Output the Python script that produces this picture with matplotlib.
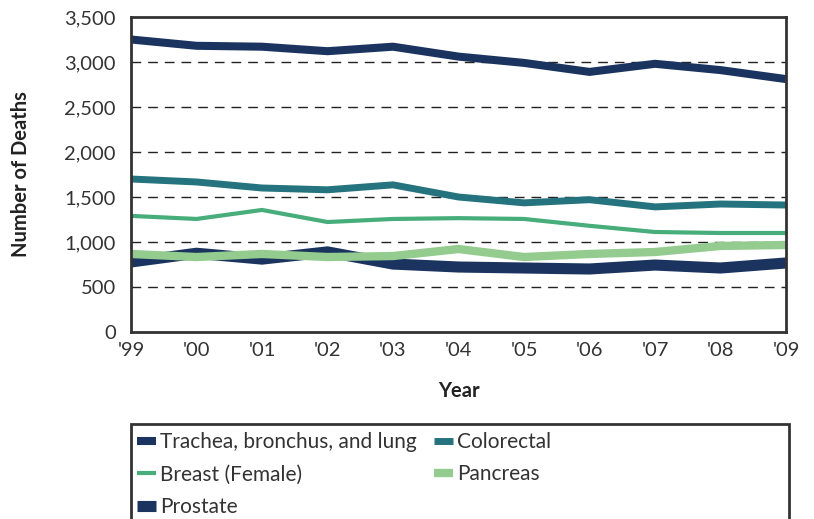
import matplotlib.pyplot as plt
from matplotlib.patches import Rectangle
from matplotlib.lines import Line2D

plt.rcParams['font.family'] = ['Lato', 'DejaVu Sans']

years = ["'99", "'00", "'01", "'02", "'03", "'04", "'05", "'06", "'07", "'08", "'09"]

lung = [3250, 3180, 3170, 3120, 3170, 3060, 2990, 2890, 2980, 2910, 2810]
colorectal = [1700, 1667, 1600, 1580, 1635, 1500, 1435, 1470, 1390, 1422, 1411]
breast = [1290, 1256, 1356, 1222, 1256, 1265, 1256, 1180, 1111, 1100, 1100]
pancreas = [867, 833, 867, 833, 844, 922, 833, 867, 889, 956, 967]
prostate = [778, 875, 810, 890, 755, 722, 711, 700, 744, 711, 767]

navy = '#1b345f'
# name, values, colour, line width, z-order
series = {
    "Trachea, bronchus, and lung": (lung, navy, 5.8, 5),
    "Colorectal": (colorectal, '#24737f', 5.0, 5),
    "Breast (Female)": (breast, '#47ad7b', 3.0, 5),
    "Pancreas": (pancreas, '#93cc8e', 6.0, 4),
    "Prostate": (prostate, navy, 8.0, 3),
}

fig = plt.figure(figsize=(8.14, 5.19), dpi=100)
ax = fig.add_axes([131/814, 1-332/519, (786-131)/814, (332-17)/519])

x = range(len(years))
for name, (vals, col, lw, z) in series.items():
    ax.plot(x, vals, color=col, lw=lw, solid_capstyle='butt', solid_joinstyle='miter', zorder=z)

ax.set_xlim(0, 10)
ax.set_ylim(0, 3500)
ax.set_yticks(range(0, 3501, 500))
ax.set_yticklabels([f"{v:,}" for v in range(0, 3501, 500)])
ax.set_xticks(list(x))
ax.set_xticklabels(years)
ax.tick_params(length=0, labelsize=14.5, colors='#333333')
ax.tick_params(axis='y', pad=11)
ax.tick_params(axis='x', pad=7)
for v in range(500, 3500, 500):
    ax.axhline(v, color='#222222', lw=1, ls=(0, (7, 5)), zorder=1)
for s in ax.spines.values():
    s.set_color('#333333')
    s.set_linewidth(2)
    s.set_zorder(6)

ax.set_ylabel("Number of Deaths", fontsize=14.5, fontweight='bold', color='#222222')
ax.yaxis.set_label_coords(-0.153, 0.5)
ax.set_xlabel("Year", fontsize=14.5, fontweight='bold', color='#222222')
ax.xaxis.set_label_coords(0.5, -0.155)

# legend box (runs off the bottom of the figure)
fig.patches.append(Rectangle((131/814, -0.05), (789-131)/814, (519-424)/519 + 0.05,
                             transform=fig.transFigure, fill=False, ec='#333333', lw=2))

def add_legend(names, xpix):
    handles = [Line2D([], [], color=series[n][1], lw=series[n][2], solid_capstyle='butt') for n in names]
    leg = fig.legend(handles, names, loc='upper left', bbox_to_anchor=(xpix/814, 1-432/519),
                     frameon=False, fontsize=15, handlelength=0.9, handletextpad=0.2,
                     labelspacing=0.6, borderaxespad=0, borderpad=0, labelcolor='#333333')
    return leg

add_legend(["Trachea, bronchus, and lung", "Breast (Female)", "Prostate"], 137)
add_legend(["Colorectal", "Pancreas"], 434)

fig.savefig('out.png', dpi=100)
